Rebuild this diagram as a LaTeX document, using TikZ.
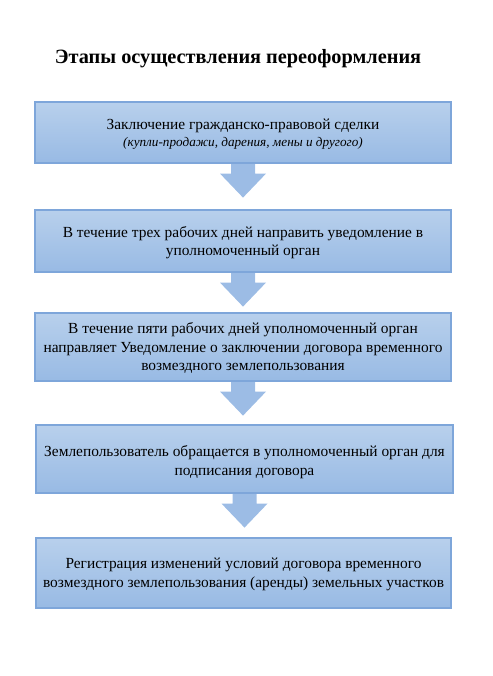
\documentclass[tikz,border=0pt]{standalone}
\usepackage{fontspec}
\setmainfont{Liberation Serif}
\usetikzlibrary{calc}
\definecolor{boxtop}{HTML}{B8D0EC}
\definecolor{boxbot}{HTML}{98BAE4}
\definecolor{boxline}{HTML}{7EA6DA}
\definecolor{arrfill}{HTML}{9CBCE5}
\begin{document}
\begin{tikzpicture}[x=1pt,y=-1pt,
  stage/.style={draw=boxline, line width=1.2pt, top color=boxtop, bottom color=boxbot,
    minimum width=416pt, align=center, inner sep=0pt, font=\fontsize{15.4}{18.5}\selectfont, text=black},
  flowarrow/.style={fill=arrfill, draw=none}]
\useasboundingbox (0,0) rectangle (492,676);
\node[font=\fontsize{20.3}{24}\selectfont\bfseries] (title) at (238,58.5) {Этапы осуществления переоформления};
\node[stage, minimum height=61pt] (s1) at (243,132.5) {\rule{0pt}{14pt}Заключение гражданско-правовой сделки\\[-2pt]{\itshape\fontsize{13.2}{15}\selectfont (купли-продажи, дарения, мены и другого)}};
\node[stage, minimum height=62pt] (s2) at (243,241) {\rule{0pt}{14pt}В течение трех рабочих дней направить уведомление в\\уполномоченный орган};
\node[stage, minimum height=68pt] (s3) at (243,347) {\rule{0pt}{13pt}В течение пяти рабочих дней уполномоченный орган\\направляет Уведомление о заключении договора временного\\возмездного землепользования};
\node[stage, minimum height=68pt, minimum width=417pt] (s4) at (244.5,459) {\rule{0pt}{17pt}Землепользователь обращается в уполномоченный орган для\\подписания договора};
\node[stage, minimum height=70pt, minimum width=415pt] (s5) at (243.5,573) {\rule{0pt}{13pt}Регистрация изменений условий договора временного\\возмездного землепользования (аренды) земельных участков};
\foreach \a in {s1, s2, s3, s4}{
  \path (\a.south) coordinate (t\a);
  \fill[flowarrow] ($(t\a)+(-12,0.6)$) -- ($(t\a)+(12,0.6)$) -- ($(t\a)+(12,10)$) -- ($(t\a)+(23,10)$)
    -- ($(t\a)+(0,34)$) -- ($(t\a)+(-23,10)$) -- ($(t\a)+(-12,10)$) -- cycle;
}
\end{tikzpicture}
\end{document}
